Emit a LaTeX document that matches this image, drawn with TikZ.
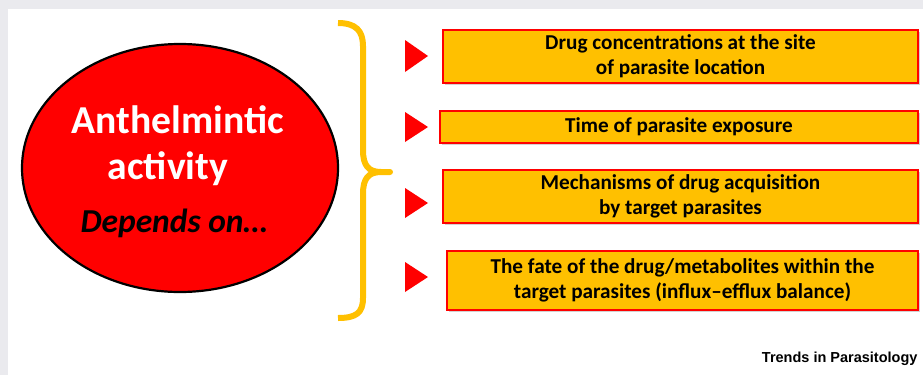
\documentclass[tikz,border=0pt]{standalone}
\usepackage{fontspec}
\setmainfont{Carlito}
\newfontfamily\footfont{Liberation Sans}
\usepackage{tikz}
\usetikzlibrary{shadows,shapes.geometric}
\usepackage{xcolor}
\definecolor{gold}{HTML}{FFC000}
\definecolor{framegray}{HTML}{EAEAEE}

\begin{document}
\begin{tikzpicture}[x=1pt,y=-1pt,line cap=round,
  factorbox/.style={draw=red,line width=2pt,fill=gold,align=center,inner sep=0pt,
    font=\bfseries\fontsize{21.2}{25}\selectfont,
    drop shadow={shadow xshift=1.5pt,shadow yshift=-1.5pt,opacity=0.35}},
  pointer/.style={fill=red}]
\useasboundingbox (0,0) rectangle (923,375);
\fill[framegray] (0,0) rectangle (923,375);
\fill[white] (8,9) rectangle (923,375);
% the central ellipse
\node[draw=black,line width=2.2pt,fill=red,ellipse,minimum width=316,minimum height=248,inner sep=0pt] (activity) at (180,168) {};
\node[anchor=base,text=white,font=\bfseries\fontsize{39.6}{42}\selectfont] (anth) at (178,133) {Anthelmintic};
\node[anchor=base,text=white,font=\bfseries\fontsize{39.6}{42}\selectfont] (act) at (168,179) {activity};
\node[anchor=base,font=\bfseries\itshape\fontsize{33.5}{36}\selectfont] (dep) at (174,232) {Depends on\ldots};
% brace
\draw[gold,line width=6pt,line cap=butt,line join=round]
  (338,23) .. controls (356,23) and (363,31) .. (363,46) -- (363,150)
  .. controls (363,165) and (368,172) .. (381,172) -- (390,172) -- (381,172)
  .. controls (368,172) and (363,179) .. (363,194) -- (363,298)
  .. controls (363,313) and (356,318) .. (338,318);
% factors
\node[factorbox,minimum width=475,minimum height=53] (conc) at (680.5,56.5) {Drug concentrations at the site\\of parasite location};
\node[factorbox,minimum width=478,minimum height=32] (time) at (679,127) {Time of parasite exposure};
\node[factorbox,minimum width=475,minimum height=53] (mech) at (680.5,196.5) {Mechanisms of drug acquisition\\by target parasites};
\node[factorbox,minimum width=471,minimum height=59] (fate) at (682.5,280.5) {The fate of the drug/metabolites within the\\target parasites (influx--efflux balance)};
\fill[pointer] (405,40) -- (428,56) -- (405,72) -- cycle;
\fill[pointer] (405,112) -- (428,127) -- (405,142) -- cycle;
\fill[pointer] (405,188) -- (428,203) -- (405,218) -- cycle;
\fill[pointer] (405,262) -- (428,277) -- (405,292) -- cycle;
\node[anchor=base east,font=\footfont\bfseries\fontsize{14.5}{16}\selectfont] (journal) at (921,362) {Trends in Parasitology};
\end{tikzpicture}
\end{document}
